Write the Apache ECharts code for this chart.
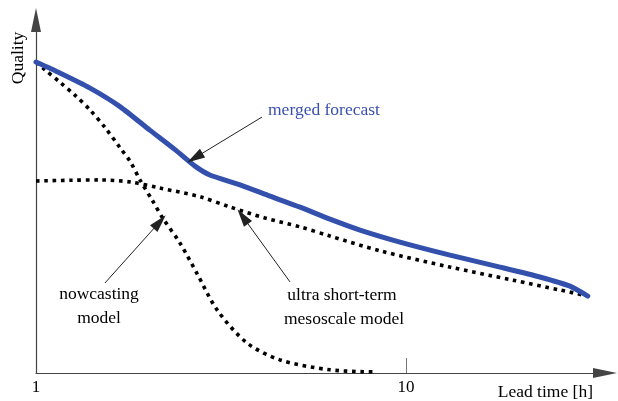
<!DOCTYPE html>
<html>
<head>
<meta charset="utf-8">
<script src="https://cdn.jsdelivr.net/npm/echarts@6/dist/echarts.min.js"></script>
<style>
html,body{margin:0;padding:0;background:#fff;}
#chart{width:618px;height:401px;}
</style>
</head>
<body>
<div id="chart"></div>
<script>
// Lead time [h] (log axis) and quality (arbitrary 0-100 scale)
var mergedTime = [1, 1.16, 1.40, 1.69, 2.03, 2.38, 2.69, 2.95, 3.56, 4.29, 5.17, 6.23, 7.51, 9.63, 13.15, 17.95, 23.0, 27.75, 31.0];
var mergedQuality = [88.1, 85.0, 80.7, 75.4, 68.8, 63.2, 58.6, 56.1, 53.3, 50.1, 47.0, 43.6, 40.5, 37.1, 33.4, 30.0, 27.2, 24.6, 21.8];

var mesoTime = [1, 1.24, 1.49, 1.80, 2.16, 2.78, 3.35, 4.16, 5.17, 6.23, 8.51, 13.15, 19.46, 26.1, 31.0];
var mesoQuality = [54.4, 54.6, 54.7, 54.1, 52.4, 49.9, 47.0, 43.9, 41.4, 38.8, 34.6, 30.0, 26.3, 23.5, 21.8];

var nowTime = [1, 1.06, 1.16, 1.28, 1.40, 1.54, 1.69, 1.80, 1.91, 2.06, 2.20, 2.45, 2.72, 3.09, 3.72, 4.57, 6.23, 8.25];
var nowQuality = [88.1, 85.8, 82.4, 78.5, 74.5, 69.4, 63.7, 59.8, 54.7, 49.0, 43.9, 36.8, 28.3, 17.8, 8.5, 3.7, 0.9, 0.3];

var xTickLabels = [1, 10];
var xTicks = [10];

// annotation arrows: [start, tip] in data coordinates
var arrowMerged = [[4.08, 72.5], [2.687, 60.96]];
var arrowNow = [[1.536, 25.5], [2.160, 42.8]];
var arrowMeso = [[4.859, 25.8], [3.620, 44.3]];

function zip(a, b) { return a.map(function (v, i) { return [v, b[i]]; }); }

var FONT = 'Liberation Serif';
var chart = echarts.init(document.getElementById('chart'), null, {renderer: 'canvas'});

var dotted = {color: '#000', width: 3.6, type: [3.6, 4.7], cap: 'butt'};

var option = {
  animation: false,
  grid: {left: 36, right: 13, top: 20, bottom: 28},
  xAxis: {
    type: 'log', logBase: 10, min: 1, max: 34.5,
    axisLine: {show: true, lineStyle: {color: '#444', width: 1.2}, symbol: ['none', 'triangle'], symbolSize: [10, 24]},
    axisTick: {show: true, inside: true, length: 15, customValues: xTicks, lineStyle: {color: '#777', width: 1}},
    axisLabel: {show: true, customValues: xTickLabels, margin: 6, color: '#000', fontFamily: FONT, fontSize: 17},
    splitLine: {show: false}, minorTick: {show: false}
  },
  yAxis: {
    type: 'value', min: 0, max: 100,
    axisLine: {show: true, lineStyle: {color: '#444', width: 1.2}, symbol: ['none', 'triangle'], symbolSize: [10, 24]},
    axisTick: {show: false}, axisLabel: {show: false}, splitLine: {show: false}
  },
  series: [
    {type: 'line', name: 'nowcasting', data: zip(nowTime, nowQuality), showSymbol: false, symbol: 'none', smooth: 0.3, lineStyle: dotted, silent: true, z: 2},
    {type: 'line', name: 'mesoscale', data: zip(mesoTime, mesoQuality), showSymbol: false, symbol: 'none', smooth: 0.3, lineStyle: dotted, silent: true, z: 2},
    {type: 'line', name: 'merged', data: zip(mergedTime, mergedQuality), showSymbol: false, symbol: 'none', smooth: 0.2,
      lineStyle: {color: '#3350ad', width: 5, cap: 'round'}, silent: true, z: 3,
      markLine: {
        silent: true, animation: false,
        symbol: ['none', 'triangle'], symbolSize: [10, 18],
        label: {show: false},
        lineStyle: {color: '#222', width: 1, type: 'solid'},
        itemStyle: {color: '#000'},
        emphasis: {disabled: true},
        data: [arrowMerged, arrowNow, arrowMeso].map(function (a) {
          return [{coord: a[0]}, {coord: a[1]}];
        })
      }
    }
  ],
  graphic: [
    {type: 'text', left: 268, top: 101, style: {text: 'merged forecast', fill: '#3a50b0', font: '17.5px "Liberation Serif"'}},
    {type: 'text', x: 99, y: 294, style: {text: 'nowcasting', fill: '#000', font: '17.5px "Liberation Serif"', align: 'center', verticalAlign: 'middle'}},
    {type: 'text', x: 99, y: 318, style: {text: 'model', fill: '#000', font: '17.5px "Liberation Serif"', align: 'center', verticalAlign: 'middle'}},
    {type: 'text', x: 342, y: 295, style: {text: 'ultra short-term', fill: '#000', font: '17.5px "Liberation Serif"', align: 'center', verticalAlign: 'middle'}},
    {type: 'text', x: 344, y: 319, style: {text: 'mesoscale model', fill: '#000', font: '17.5px "Liberation Serif"', align: 'center', verticalAlign: 'middle'}},
    {type: 'text', x: 593, y: 392, style: {text: 'Lead time [h]', fill: '#000', font: '17.5px "Liberation Serif"', align: 'right', verticalAlign: 'middle'}},
    {type: 'text', x: 18, y: 58, rotation: Math.PI / 2, style: {text: 'Quality', fill: '#000', font: '17.5px "Liberation Serif"', align: 'center', verticalAlign: 'middle'}}
  ]
};
chart.setOption(option);
</script>
</body>
</html>
